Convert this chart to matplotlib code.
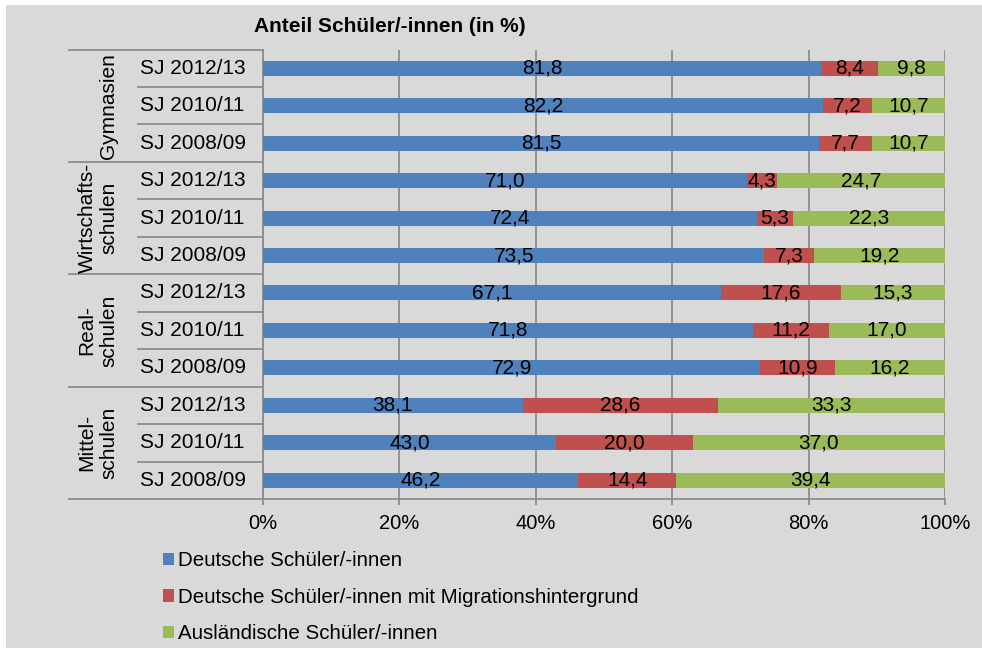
import matplotlib.pyplot as plt
from matplotlib.patches import Rectangle
from matplotlib.transforms import blended_transform_factory

plt.rcParams['font.family'] = ['Liberation Sans', 'DejaVu Sans']

# Daten (von oben nach unten)
gruppen = ["Gymnasien", "Wirtschafts-\nschulen", "Real-\nschulen", "Mittel-\nschulen"]
schuljahre = ["SJ 2012/13", "SJ 2010/11", "SJ 2008/09"]
deutsch = [81.8, 82.2, 81.5, 71.0, 72.4, 73.5, 67.1, 71.8, 72.9, 38.1, 43.0, 46.2]
migration = [8.4, 7.2, 7.7, 4.3, 5.3, 7.3, 17.6, 11.2, 10.9, 28.6, 20.0, 14.4]
auslaender = [9.8, 10.7, 10.7, 24.7, 22.3, 19.2, 15.3, 17.0, 16.2, 33.3, 37.0, 39.4]

serien = ["Deutsche Schüler/-innen",
          "Deutsche Schüler/-innen mit Migrationshintergrund",
          "Ausländische Schüler/-innen"]
farben = ["#4F81BD", "#C0504D", "#9BBB59"]
grau = "#D9D9D9"
linie = "#8C8C8C"

fig = plt.figure(figsize=(9.82, 6.48), dpi=100, facecolor="white")
fig.patches.append(Rectangle((6 / 982, 0), 1, 643 / 648, transform=fig.transFigure,
                             facecolor=grau, edgecolor="none", zorder=-10))

ax = fig.add_axes([263 / 982, 1 - 499 / 648, 682 / 982, 449.5 / 648])
ax.set_facecolor(grau)

n = len(deutsch)
y = list(range(n))
# auf 100 % normieren
werte = []
for d, m, a in zip(deutsch, migration, auslaender):
    s = d + m + a
    werte.append((d / s * 100, m / s * 100, a / s * 100, d, m, a))

links = [0.0] * n
for k in range(3):
    breiten = [w[k] for w in werte]
    ax.barh(y, breiten, left=links, height=0.4, color=farben[k], label=serien[k], zorder=3)
    for i in range(n):
        ax.text(links[i] + breiten[i] / 2, y[i], f"{werte[i][k + 3]:.1f}".replace(".", ","),
                ha="center", va="center", fontsize=15, color="black", zorder=4)
    links = [links[i] + breiten[i] for i in range(n)]

ax.set_xlim(0, 100)
ax.set_ylim(n - 0.5, -0.5)
ax.set_xticks([0, 20, 40, 60, 80, 100])
ax.set_xticklabels([f"{t}%" for t in [0, 20, 40, 60, 80, 100]], fontsize=14.5)
ax.xaxis.grid(True, color=linie, linewidth=1.3, zorder=0)
ax.set_axisbelow(True)
ax.tick_params(axis="x", length=4.5, width=1.3, color=linie, pad=6)
ax.tick_params(axis="y", left=False, labelleft=False)
for s in ["top", "right"]:
    ax.spines[s].set_visible(False)
for s in ["left", "bottom"]:
    ax.spines[s].set_color(linie)
    ax.spines[s].set_linewidth(1.3)

# Kategorienachse mit Gruppen
tr = blended_transform_factory(ax.transAxes, ax.transData)
x_sj = (138 - 263) / 682
x_gr = (69 - 263) / 682
for i in range(n + 1):
    xs = x_gr if i % 3 == 0 else x_sj
    ax.plot([xs, 0], [i - 0.5, i - 0.5], color=linie, linewidth=1.3,
            transform=tr, clip_on=False)
for i in range(n):
    ax.text((140 - 263) / 682, y[i], schuljahre[i % 3], transform=tr,
            ha="left", va="center", fontsize=15)
for g, name in enumerate(gruppen):
    ax.text((118 - 263) / 682, g * 3 + 1, name, transform=tr, rotation=90,
            ha="right", va="center", multialignment="center", fontsize=15,
            linespacing=1.15)

fig.text(390 / 982, 1 - 26 / 648, "Anteil Schüler/-innen (in %)", ha="center",
         va="center", fontsize=15, fontweight="bold")

fig.legend(loc="upper left", bbox_to_anchor=(163 / 982, 1 - 551 / 648), ncol=1,
           frameon=False, fontsize=14.8, handlelength=0.55, handleheight=0.55,
           handletextpad=0.2, labelspacing=0.86, borderaxespad=0, borderpad=0)

fig.savefig("out.png", dpi=100, facecolor=fig.get_facecolor())
